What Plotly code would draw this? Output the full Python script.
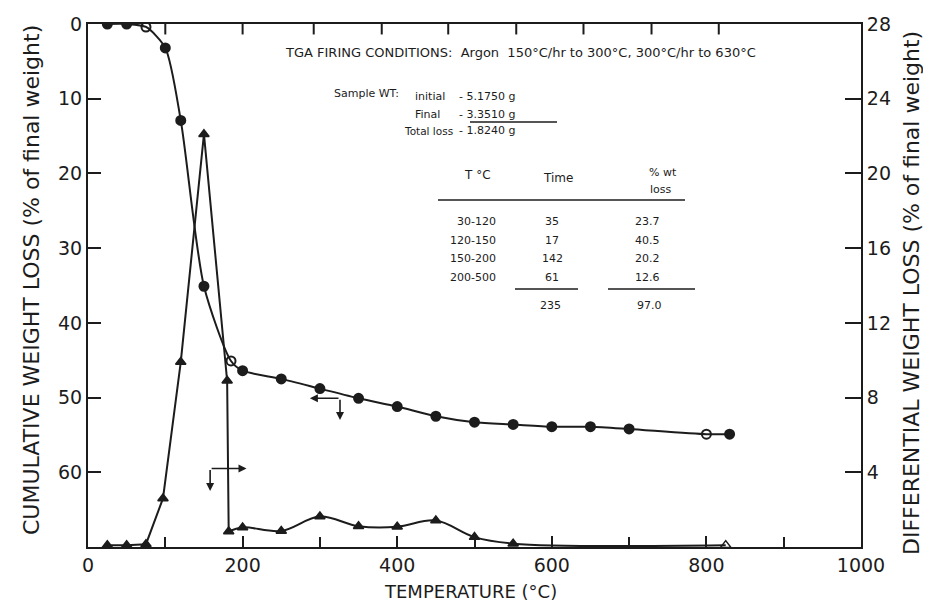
import plotly.graph_objects as go

# ---------------- data ----------------
# cumulative weight loss (left axis, % of final weight)
cum_temp = [25, 50, 75, 100, 120, 150, 185, 200, 250, 300, 350, 400, 450, 500, 550, 600, 650, 700, 800, 830]
cum_loss = [0, 0, 0.4, 3.2, 12.9, 35.1, 45.1, 46.4, 47.5, 48.8, 50.1, 51.2, 52.5, 53.3, 53.6, 53.9, 53.9, 54.2, 54.9, 54.9]
cum_open_temps = [75, 185, 800]

# differential weight loss (right axis, % of final weight)
diff_temp = [25, 50, 75, 97, 120, 150, 180, 182, 200, 250, 300, 350, 400, 450, 500, 550, 825]
diff_loss = [0.1, 0.1, 0.15, 2.6, 9.9, 22.1, 8.9, 0.83, 1.05, 0.86, 1.63, 1.11, 1.08, 1.42, 0.53, 0.18, 0.1]
diff_open_temps = [825]
peak_last_index = 7  # last point of the sharp (straight-line) peak section

# axis ticks
x_tick_vals = [0, 200, 400, 600, 800, 1000]
top_tick_vals = [100, 200, 292, 380, 466, 554, 641, 729, 816]
left_tick_vals = [0, 10, 20, 30, 40, 50, 60]
right_tick_vals = [4, 8, 12, 16, 20, 24, 28]

# table in the chart
table_ranges = ["30-120", "120-150", "150-200", "200-500"]
table_times = ["35", "17", "142", "61"]
table_pct = ["23.7", "40.5", "20.2", "12.6"]
table_time_total = "235"
table_pct_total = "97.0"

INK = "#1c1c1c"
FONT = "DejaVu Sans"

W, H = 931, 606
OFF = 8  # page body margin that offsets the figure in the browser
# plot frame in page pixels (for annotation placement)
L, R, T, B = 88, 861, 24, 547
def px(xp):
    return (xp - L) / (R - L)
def py(yp):
    return (B - yp) / (B - T)

fig = go.Figure()

# ticks hanging from the top frame line (placed on the temperature scale, left-axis units)
tick_x, tick_y = [], []
for tv in top_tick_vals:
    tick_x += [tv, tv, None]
    tick_y += [0, 1.4, None]
fig.add_trace(go.Scatter(x=tick_x, y=tick_y, mode="lines", yaxis="y",
                         line=dict(color=INK, width=2), hoverinfo="skip", cliponaxis=False))

# cumulative curve
fig.add_trace(go.Scatter(
    x=cum_temp, y=cum_loss, mode="lines+markers", yaxis="y",
    line=dict(color=INK, width=2, shape="spline", smoothing=0.7),
    marker=dict(size=9, color=INK,
                symbol=["circle-open" if t in cum_open_temps else "circle" for t in cum_temp],
                line=dict(color=INK, width=2)),
    hoverinfo="skip"))

# differential curve: sharp peak section (straight lines)
fig.add_trace(go.Scatter(
    x=diff_temp[:peak_last_index + 1], y=diff_loss[:peak_last_index + 1],
    mode="lines", yaxis="y2", line=dict(color=INK, width=2), hoverinfo="skip"))
# differential curve: tail (smooth)
fig.add_trace(go.Scatter(
    x=diff_temp[peak_last_index:], y=diff_loss[peak_last_index:],
    mode="lines", yaxis="y2", line=dict(color=INK, width=2, shape="spline", smoothing=1.0),
    hoverinfo="skip"))
# differential markers
fig.add_trace(go.Scatter(
    x=diff_temp, y=diff_loss, mode="markers", yaxis="y2",
    marker=dict(size=9, color=INK,
                symbol=["triangle-up-open" if t in diff_open_temps else "triangle-up" for t in diff_temp],
                line=dict(color=INK, width=1.5)),
    hoverinfo="skip"))

ann = []
def text(xp, yp, s, size=12, xanchor="left", angle=0):
    ann.append(dict(x=px(xp), y=py(yp), xref="paper", yref="paper", text=s, showarrow=False,
                    textangle=angle, xanchor=xanchor, yanchor="middle",
                    font=dict(family=FONT, size=size, color=INK)))

text(283, 53, "TGA FIRING CONDITIONS:  Argon  150°C/hr to 300°C, 300°C/hr to 630°C", 13)
text(332, 93, "Sample WT:", 11)
text(413, 97, "initial", 11)
text(457, 97, "- 5.1750 g", 11)
text(413, 114, "Final", 11)
text(457, 114, "- 3.3510 g", 11)
text(455, 131, "Total loss", 10.5, "right")
text(457, 131, "- 1.8240 g", 11)

text(477, 175, "T °C", 12, "center")
text(558, 178, "Time", 12, "center")
text(663, 172, "% wt", 11, "center")
text(661, 190, "loss", 11, "center")
row_y = [222, 240, 258, 277]
for yy, a, b, c in zip(row_y, table_ranges, table_times, table_pct):
    text(498, yy, a, 11, "right")
    text(552, yy, b, 11, "center")
    text(647, yy, c, 11, "center")
text(550, 305, table_time_total, 11, "center")
text(649, 305, table_pct_total, 11, "center")

# axis titles
text(31, 280, "CUMULATIVE WEIGHT LOSS (% of final weight)", 22, "center", -90)
text(911, 293, "DIFFERENTIAL WEIGHT LOSS (% of final weight)", 22, "center", -90)
text(470, 591, "TEMPERATURE (°C)", 18, "center")

# axis-indicator arrows
arrow = dict(showarrow=True, text="", arrowhead=2, arrowsize=1, arrowwidth=1.6, arrowcolor=INK)
ann.append(dict(x=287, y=50.1, ax=326, ay=50.1, xref="x", yref="y", axref="x", ayref="y", **arrow))
ann.append(dict(x=326, y=53.0, ax=326, ay=50.1, xref="x", yref="y", axref="x", ayref="y", **arrow))
ann.append(dict(x=205, y=4.2, ax=158, ay=4.2, xref="x", yref="y2", axref="x", ayref="y2", **arrow))
ann.append(dict(x=158, y=3.0, ax=158, ay=4.2, xref="x", yref="y2", axref="x", ayref="y2", **arrow))

shapes = []
def hline(x0, x1, yy, w=1.5):
    shapes.append(dict(type="line", xref="paper", yref="paper", x0=px(x0), x1=px(x1), y0=py(yy), y1=py(yy),
                       line=dict(color=INK, width=w)))
hline(470, 557, 122)
hline(438, 685, 200)
hline(515, 578, 289)
hline(608, 695, 289)

axis_common = dict(showgrid=False, zeroline=False, showline=True, linecolor=INK, linewidth=2,
                   ticks="inside", tickcolor=INK, tickwidth=2, automargin=False, layer="above traces",
                   tickfont=dict(family=FONT, size=19, color=INK))

fig.update_layout(
    width=W, height=H,
    margin=dict(l=L - OFF, r=W + OFF - R, t=T - OFF, b=H + OFF - B),
    paper_bgcolor="white", plot_bgcolor="white",
    showlegend=False,
    annotations=ann, shapes=shapes,
    xaxis=dict(range=[0, 1000], tickvals=x_tick_vals, ticklen=11, mirror=True,
               minor=dict(dtick=100, ticks="inside", ticklen=10, tickcolor=INK, tickwidth=2),
               **axis_common),
    yaxis=dict(range=[70, 0], tickvals=left_tick_vals, ticklen=13, **axis_common),
    yaxis2=dict(range=[0, 28], tickvals=right_tick_vals, ticklen=16, overlaying="y", side="right",
                **axis_common),
)

fig.write_html("out.html")
